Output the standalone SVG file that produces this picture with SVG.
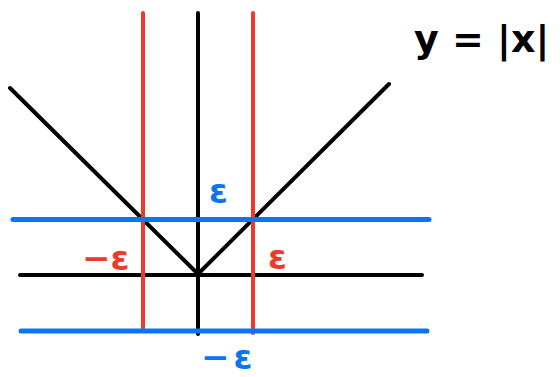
<svg xmlns="http://www.w3.org/2000/svg" width="560" height="377" viewBox="0 0 560 377">
<style>
line { stroke-width: 4; stroke-linecap: round; fill: none; }
.k { stroke: #000; }
.r { stroke: #ee3a2a; }
.b { stroke: #0a74f5; stroke-width: 5; }
text { font-family: "DejaVu Sans", sans-serif; font-weight: bold; }
.tb { fill: #0a74f5; }
.tr { fill: #ee3a2a; }
.tk { fill: #000; }
</style>
<rect width="560" height="377" fill="#fff"/>
<g id="connectors">
  <line id="yaxis" class="k" x1="198" y1="13" x2="198" y2="334"/>
  <line id="xaxis" class="k" x1="20" y1="275" x2="422" y2="275"/>
  <line id="leftArm" class="k" x1="10" y1="88" x2="198" y2="274"/>
  <line id="rightArm" class="k" x1="389" y1="84" x2="198" y2="274"/>
  <line id="redLeft" class="r" x1="143" y1="13" x2="143" y2="331"/>
  <line id="redRight" class="r" x1="253" y1="13" x2="253" y2="333"/>
  <line id="blueTop" class="b" x1="13" y1="219.5" x2="429" y2="219.5"/>
  <line id="blueBottom" class="b" x1="21" y1="331" x2="427" y2="331"/>
</g>
<g id="label-eps-top"><text class="tb" x="209" y="203" font-size="34">ε</text></g>
<g id="label-neg-eps-left"><text class="tr" x="82" y="270" font-size="34">−ε</text></g>
<g id="label-eps-right"><text class="tr" x="268" y="269" font-size="34">ε</text></g>
<g id="label-neg-eps-bottom"><text class="tb" x="201" y="369" font-size="34" letter-spacing="4">−ε</text></g>
<g id="label-title"><text class="tk" x="414" y="52" font-size="38">y = |x|</text></g>
</svg>
